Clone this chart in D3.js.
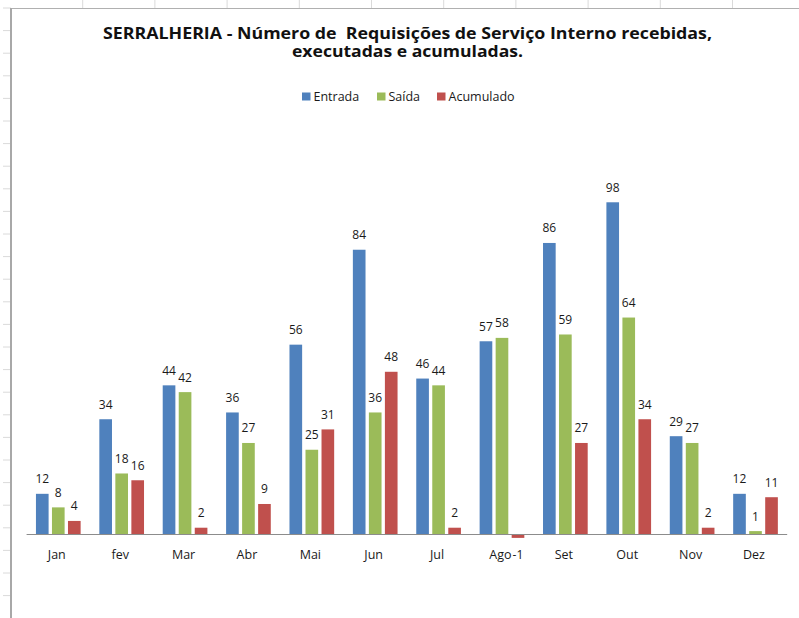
<!DOCTYPE html>
<html>
<head>
<meta charset="utf-8">
<script src="https://cdn.jsdelivr.net/npm/d3@7"></script>
<style>
  body { margin: 0; background: #fff; }
  svg { display: block; font-family: 'Open Sans', 'Noto Sans', sans-serif; }
</style>
</head>
<body>
<div id="chart"></div>
<script>
// data
const months = ['Jan', 'fev', 'Mar', 'Abr', 'Mai', 'Jun', 'Jul', 'Ago', 'Set', 'Out', 'Nov', 'Dez']
const seriesNames = ['Entrada', 'Saída', 'Acumulado']
const entrada = [12, 34, 44, 36, 56, 84, 46, 57, 86, 98, 29, 12]
const saida = [8, 18, 42, 27, 25, 36, 44, 58, 59, 64, 27, 1]
const acumulado = [4, 16, 2, 9, 31, 48, 2, -1, 27, 34, 2, 11]
const colors = ['#4F81BD', '#9BBB59', '#C0504D']

const W = 799, H = 618

const svg = d3.select('#chart')
  .append('svg')
  .attr('width', W)
  .attr('height', H)

// spreadsheet ticks around the chart object
svg.selectAll('.rowTick')
  .data(d3.range(0, 27))
  .join('line')
  .attr('x1', 3).attr('x2', 11)
  .attr('y1', (d) => 8 + d * 22.6).attr('y2', (d) => 8 + d * 22.6)
  .attr('stroke', '#dadada')
svg.selectAll('.colTick')
  .data(d3.range(0, 11))
  .join('line')
  .attr('x1', (d) => 82.7 + d * 72.2).attr('x2', (d) => 82.7 + d * 72.2)
  .attr('y1', 0).attr('y2', 8)
  .attr('stroke', '#dadada')

// chart frame (right/bottom edges are off screen)
svg.append('line')
  .attr('x1', 11).attr('x2', W).attr('y1', 8.5).attr('y2', 8.5)
  .attr('stroke', '#b0b0b0')
svg.append('line')
  .attr('x1', 11).attr('x2', 11).attr('y1', 8).attr('y2', H)
  .attr('stroke', '#a8a8a8').attr('stroke-width', 2)

// title
const titleLines = [
  { text: 'SERRALHERIA - Número de  Requisições de Serviço Interno recebidas,', y: 39, len: 609 },
  { text: 'executadas e acumuladas.', y: 57, len: 231 },
]
svg.selectAll('.title')
  .data(titleLines)
  .join('text')
  .attr('class', 'title')
  .attr('x', 407.5)
  .attr('y', (d) => d.y)
  .attr('text-anchor', 'middle')
  .attr('textLength', (d) => d.len)
  .attr('lengthAdjust', 'spacingAndGlyphs')
  .style('white-space', 'pre')
  .style('font-weight', 'bold')
  .style('font-size', '16px')
  .attr('fill', '#111')
  .text((d) => d.text)

// legend
const legendX = [302, 377, 437]
const legend = svg.selectAll('.legend')
  .data(seriesNames)
  .join('g')
  .attr('transform', (d, i) => `translate(${legendX[i]},92.5)`)
legend.append('rect')
  .attr('width', 8.5).attr('height', 8)
  .attr('fill', (d, i) => colors[i])
legend.append('text')
  .attr('x', 11.5).attr('y', 8.5)
  .style('font-size', '12.5px')
  .attr('fill', '#1a1a1a')
  .text((d) => d)

// scales
const x0 = d3.scaleBand()
  .domain(months)
  .range([26.6, 787.2])
  .paddingInner(0.295)
  .paddingOuter(0.1475)
const x1 = d3.scaleBand()
  .domain(seriesNames)
  .range([0, x0.bandwidth()])
  .paddingInner(0.21)
const y = d3.scaleLinear()
  .domain([0, 120])
  .range([534.5, 127.7])

const tidy = []
months.forEach((m, i) => {
  [entrada, saida, acumulado].forEach((s, k) => {
    tidy.push({ month: m, series: seriesNames[k], value: s[i], k: k })
  })
})

// bars
svg.selectAll('.bar')
  .data(tidy)
  .join('rect')
  .attr('class', 'bar')
  .attr('x', (d) => x0(d.month) + x1(d.series))
  .attr('width', x1.bandwidth())
  .attr('y', (d) => y(Math.max(0, d.value)))
  .attr('height', (d) => Math.abs(y(d.value) - y(0)))
  .attr('fill', (d) => colors[d.k])

// value labels
svg.selectAll('.lbl')
  .data(tidy)
  .join('text')
  .attr('class', 'lbl')
  .attr('x', (d) => x0(d.month) + x1(d.series) + x1.bandwidth() / 2)
  .attr('y', (d) => (d.value >= 0 ? y(d.value) - 10.5 : y(d.value) + 21))
  .attr('text-anchor', 'middle')
  .style('font-size', '12px')
  .attr('fill', '#1a1a1a')
  .text((d) => d.value)

// x axis
svg.append('line')
  .attr('x1', x0.range()[0]).attr('x2', x0.range()[1])
  .attr('y1', y(0)).attr('y2', y(0))
  .attr('stroke', '#8c8c8c')
svg.selectAll('.cat')
  .data(months)
  .join('text')
  .attr('class', 'cat')
  .attr('x', (d) => x0(d) + x0.bandwidth() / 2 - 1.5)
  .attr('y', 559)
  .attr('text-anchor', 'middle')
  .style('font-size', '12.5px')
  .attr('fill', '#1a1a1a')
  .text((d) => d)
</script>
</body>
</html>
